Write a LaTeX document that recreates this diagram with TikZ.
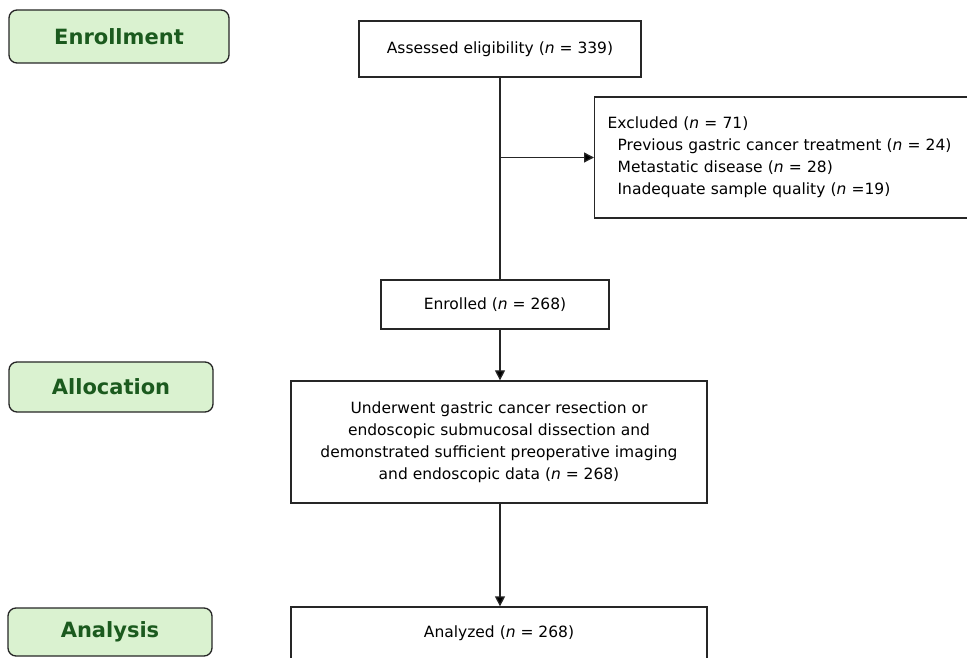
\documentclass[tikz,border=0pt]{standalone}
\usepackage{fontspec}
\setmainfont{DejaVu Sans}
\usetikzlibrary{arrows.meta}
\definecolor{stagefill}{HTML}{DAF2D0}
\definecolor{stagetext}{HTML}{1B5A1E}
\definecolor{edgegray}{HTML}{262626}

\begin{document}
\begin{tikzpicture}[x=1pt,y=1pt,line width=1.3pt,
  stage/.style={draw=edgegray,fill=stagefill,rounded corners=8pt,text=stagetext,
    font=\fontsize{21}{25}\selectfont\bfseries,inner sep=0pt},
  box/.style={draw=edgegray,rectangle,inner sep=0pt,align=center,
    font=\fontsize{15.5}{22}\selectfont},
  arr/.style={draw=edgegray,-{Triangle[length=10pt,width=10pt,fill=black]}}]
  \clip (0,0) rectangle (967,657);
  % stages on the left
  \node[stage,minimum width=220,minimum height=53] (enroll) at (119,620.5) {Enrollment};
  \node[stage,minimum width=204,minimum height=50] (alloc) at (111,270) {Allocation};
  \node[stage,minimum width=204,minimum height=48] (analysis) at (110,25) {Analysis};
  % flow boxes
  \node[box,minimum width=282,minimum height=56] (assessed) at (500,608)
    {Assessed eligibility (\textit{n} = 339)};
  \node[box,text width=355,inner xsep=13pt,minimum height=121,align=left,anchor=west] (excluded) at (594,499.5)
    {Excluded (\textit{n} = 71)\\
     \hspace*{10pt}Previous gastric cancer treatment (\textit{n} = 24)\\
     \hspace*{10pt}Metastatic disease (\textit{n} = 28)\\
     \hspace*{10pt}Inadequate sample quality (\textit{n} =19)};
  \node[box,minimum width=228,minimum height=49] (enrolled) at (495,352.5)
    {Enrolled (\textit{n} = 268)};
  \node[box,minimum width=416,minimum height=122] (underwent) at (499,215)
    {Underwent gastric cancer resection or\\
     endoscopic submucosal dissection and\\
     demonstrated sufficient preoperative imaging\\
     and endoscopic data (\textit{n} = 268)};
  \node[box,minimum width=416,minimum height=52] (analyzed) at (499,24)
    {Analyzed (\textit{n} = 268)};
  % connectors
  \draw[draw=edgegray] (assessed.south) -- (assessed.south |- enrolled.north);
  \draw[arr] (assessed.south |- excluded.west) -- (excluded.west);
  \draw[arr] (enrolled.south -| assessed.south) -- (assessed.south |- underwent.north);
  \draw[arr] (underwent.south -| assessed.south) -- (assessed.south |- analyzed.north);
\end{tikzpicture}
\end{document}
